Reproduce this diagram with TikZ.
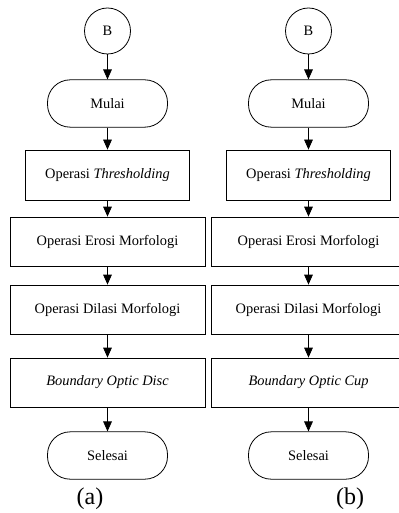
\documentclass[tikz,border=0pt]{standalone}
\usepackage{fontspec}
\setmainfont{Liberation Serif}
\usetikzlibrary{arrows.meta}

\tikzset{
  konektor/.style={circle, draw, inner sep=0pt, minimum size=34.5pt},
  terminal/.style={rectangle, draw, rounded corners=17pt, minimum width=90pt, minimum height=35.5pt},
  proses/.style={rectangle, draw, minimum width=122.5pt, minimum height=37.5pt},
  proseslebar/.style={rectangle, draw, minimum width=146.25pt, minimum height=36.75pt},
  alur/.style={-{Triangle[width=6.5pt,length=7.5pt]}},
}

\begin{document}
\begin{tikzpicture}[x=0.75pt,y=0.75pt,yscale=-1,xscale=1,line width=0.6pt,
  font=\fontsize{10.8}{13}\selectfont]
\useasboundingbox (0,0) rectangle (399,513);
\clip (0,0) rectangle (399,513);

% kolom kiri (a)
\draw (107.5,31) node [konektor] (bA) {B};
\draw (107.5,103.5) node [terminal] (mulaiA) {Mulai};
\draw (107.5,175) node [proses] (threshA) {Operasi \textit{Thresholding}};
\draw (107.5,241.5) node [proseslebar] (erosiA) {Operasi Erosi Morfologi};
\draw (107.5,309.5) node [proseslebar] (dilasiA) {Operasi Dilasi Morfologi};
\draw (107.5,382.5) node [proseslebar] (batasA) {\textit{Boundary Optic Disc}};
\draw (107.5,455.5) node [terminal] (selesaiA) {Selesai};
\draw (90,499) node [font=\fontsize{18}{20}\selectfont] (capA) {(a)};

% kolom kanan (b)
\draw (308.5,31) node [konektor] (bB) {B};
\draw (308.5,103.5) node [terminal] (mulaiB) {Mulai};
\draw (308.5,175) node [proses] (threshB) {Operasi \textit{Thresholding}};
\draw (308.5,241.5) node [proseslebar] (erosiB) {Operasi Erosi Morfologi};
\draw (308.5,309.5) node [proseslebar] (dilasiB) {Operasi Dilasi Morfologi};
\draw (308.5,382.5) node [proseslebar] (batasB) {\textit{Boundary Optic Cup}};
\draw (308.5,455.5) node [terminal] (selesaiB) {Selesai};
\draw (350,499) node [font=\fontsize{18}{20}\selectfont] (capB) {(b)};

% panah
\foreach \k in {A,B}{
  \draw[alur] (b\k) -- (mulai\k);
  \draw[alur] (mulai\k) -- (thresh\k);
  \draw[alur] (thresh\k) -- (erosi\k);
  \draw[alur] (erosi\k) -- (dilasi\k);
  \draw[alur] (dilasi\k) -- (batas\k);
  \draw[alur] (batas\k) -- (selesai\k);
}
\end{tikzpicture}
\end{document}
